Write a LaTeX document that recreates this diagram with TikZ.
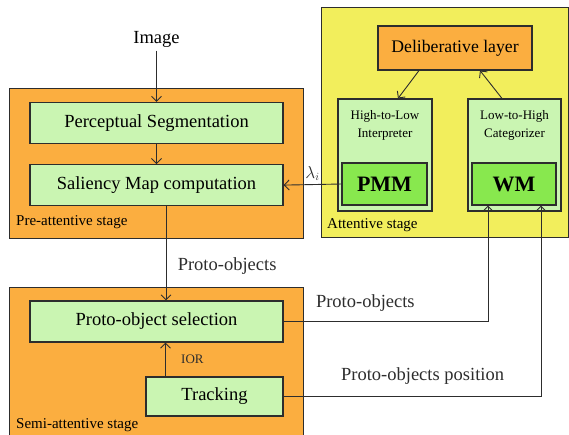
\documentclass[tikz,border=0pt]{standalone}
\usepackage{fontspec}
\setmainfont{Liberation Serif}
\usetikzlibrary{arrows.meta,positioning}
\definecolor{stageorange}{RGB}{251,174,64}
\definecolor{stageyellow}{RGB}{242,238,92}
\definecolor{palegreen}{RGB}{202,245,178}
\definecolor{mapgreen}{RGB}{136,232,78}
\definecolor{edgegray}{RGB}{45,45,45}

\begin{document}
\begin{tikzpicture}[x=1pt, y=-1pt,
  stagebox/.style={rectangle, draw=edgegray, line width=1pt, inner sep=0pt},
  procbox/.style={rectangle, draw=edgegray, fill=palegreen, line width=1.1pt, minimum width=253pt, minimum height=41pt, font=\fontsize{18.5}{20}\selectfont},
  mapbox/.style={rectangle, draw=edgegray, fill=mapgreen, line width=1.1pt, minimum width=85pt, minimum height=42pt, font=\fontsize{22}{24}\selectfont\bfseries},
  layerbox/.style={rectangle, draw=edgegray, fill=palegreen, line width=1.1pt, minimum width=94pt, minimum height=112pt},
  layertext/.style={font=\fontsize{13}{18}\selectfont, align=center, anchor=north, yshift=-12pt, inner sep=0pt},
  stagetext/.style={font=\fontsize{15}{17}\selectfont, anchor=west, inner sep=0pt},
  flow/.style={-{Straight Barb[length=5pt,width=10pt]}, line width=0.9pt, color=edgegray},
  flowlabel/.style={font=\fontsize{18.5}{20}\selectfont}
]
\clip (0,0) rectangle (569,434);

% stage panels
\node[stagebox, fill=stageorange, minimum width=294pt, minimum height=150pt] (pre) at (156,163) {};
\node[stagebox, fill=stageorange, minimum width=294pt, minimum height=160pt] (semi) at (156,367) {};
\node[stagebox, fill=stageyellow, minimum width=247pt, minimum height=230pt] (att) at (444.5,122) {};
\node[stagetext] (pretext) at (16,222) {Pre-attentive stage};
\node[stagetext] (semitext) at (16,425) {Semi-attentive stage};
\node[stagetext] (atttext) at (327,225) {Attentive stage};

% pre- and semi-attentive blocks
\node[flowlabel] (img) at (156.5,39) {Image};
\node[procbox] (seg) at (156.5,123) {Perceptual Segmentation};
\node[procbox, below=20pt of seg] (sal) {Saliency Map computation};
\node[procbox] (sel) at (156.5,321.5) {Proto-object selection};
\node[procbox, minimum width=137pt, minimum height=39pt] (track) at (214.5,396.5) {Tracking};

% attentive blocks
\node[procbox, fill=stageorange, minimum width=154pt, minimum height=44pt, font=\fontsize{17.7}{20}\selectfont] (delib) at (455,48) {Deliberative layer};
\node[layerbox, label={[layertext]north:High-to-Low\\Interpreter}] (htl) at (385,155) {};
\node[layerbox, minimum width=93pt, label={[layertext]north:Low-to-High\\Categorizer}] (lth) at (514.5,155) {};
\node[mapbox] (pmm) at (384.5,184) {PMM};
\node[mapbox, minimum width=84pt] (wm) at (514,184) {WM};

% connections
\draw[flow] (img) -- (seg);
\draw[flow] (seg) -- (sal);
\draw[flow] ([xshift=9.5pt]sal.south) -- ([xshift=9.5pt]sel.north)
  node[flowlabel, pos=0.64, right=8pt] {Proto-objects};
\coordinate (iorfoot) at ([xshift=20pt]track.north west);
\draw[flow] (iorfoot) -- (iorfoot |- sel.south)
  node[midway, right=12pt, font=\fontsize{13}{14}\selectfont] {IOR};
\draw[flow] (pmm.west) -- (sal.east)
  node[midway, above, font=\fontsize{16}{18}\selectfont] {$\lambda_i$};
\draw[flow] ([xshift=-36pt]delib.south) -- ([xshift=13pt]htl.north);
\draw[flow] ([xshift=-12.5pt]lth.north) -- ([xshift=25pt]delib.south);
\draw[flow] (sel.east) -| ([xshift=-26pt]wm.south)
  node[flowlabel, pos=0.2, above=6pt] {Proto-objects};
\draw[flow] (track.east) -| ([xshift=27pt]wm.south)
  node[flowlabel, pos=0.27, above=8pt] {Proto-objects position};
\end{tikzpicture}
\end{document}
